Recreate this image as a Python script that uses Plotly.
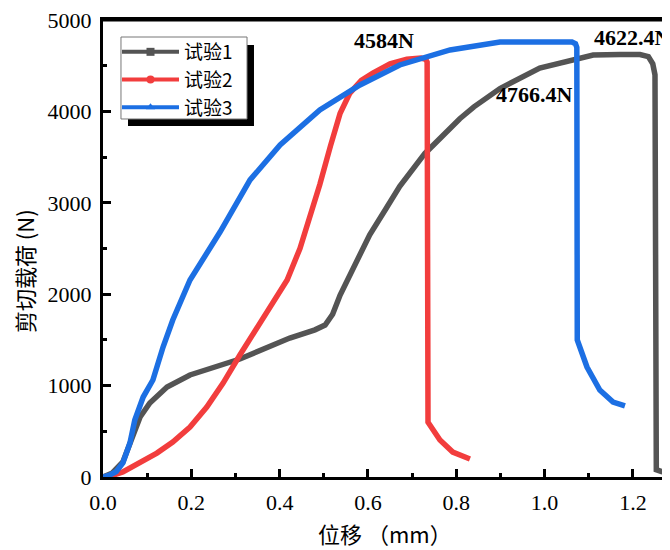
import plotly.graph_objects as go

# ---- data ----
gray_x = [0, 0.02, 0.045, 0.068, 0.084, 0.106, 0.145, 0.197, 0.272, 0.31, 0.423, 0.48, 0.503,
          0.52, 0.537, 0.57, 0.604, 0.64, 0.672, 0.729, 0.808, 0.84, 0.899, 0.989, 1.035, 1.08,
          1.11, 1.171, 1.216, 1.235, 1.245, 1.25, 1.251, 1.253, 1.265, 1.277]
gray_y = [0, 40, 164, 437, 656, 810, 985, 1116, 1225, 1291, 1520, 1610, 1663,
          1780, 1991, 2330, 2650, 2930, 3180, 3540, 3920, 4050, 4250, 4475, 4530, 4595,
          4617, 4622, 4622, 4600, 4520, 4400, 2180, 80, 60, 45]

red_x = [0, 0.02, 0.045, 0.084, 0.122, 0.158, 0.197, 0.235, 0.272, 0.31, 0.349, 0.385, 0.417,
         0.446, 0.469, 0.491, 0.515, 0.537, 0.559, 0.585, 0.611, 0.65, 0.688, 0.72, 0.731,
         0.734, 0.736, 0.763, 0.792, 0.831]
red_y = [0, 15, 55, 164, 262, 383, 547, 766, 1028, 1335, 1641, 1915, 2155,
         2500, 2850, 3200, 3620, 3980, 4200, 4340, 4420, 4520, 4570, 4584, 4570,
         4540, 600, 405, 273, 197]

blue_x = [0, 0.015, 0.03, 0.045, 0.061, 0.072, 0.091, 0.113, 0.136, 0.158, 0.197, 0.265, 0.333,
          0.401, 0.491, 0.582, 0.672, 0.786, 0.899, 0.989, 1.03, 1.062, 1.07, 1.073, 1.074,
          1.096, 1.125, 1.155, 1.182]
blue_y = [0, 20, 60, 153, 372, 624, 875, 1061, 1422, 1718, 2155, 2680, 3250,
          3632, 4015, 4289, 4508, 4672, 4759, 4766, 4766, 4759, 4740, 4700, 1500,
          1203, 952, 820, 777]

series_names = ["试验1", "试验2", "试验3"]
peak_labels = ["4584N", "4766.4N", "4622.4N"]
x_ticks = [0.0, 0.2, 0.4, 0.6, 0.8, 1.0, 1.2]
y_ticks = [0, 1000, 2000, 3000, 4000, 5000]

colors = ["#545454", "#f23d3d", "#1c6fe3"]
symbols = ["square", "circle", "triangle-up"]

fig = go.Figure()
for xs, ys, name, c, s in zip([gray_x, red_x, blue_x], [gray_y, red_y, blue_y],
                              series_names, colors, symbols):
    fig.add_trace(go.Scatter(x=xs, y=ys, mode="lines", name=name, showlegend=False,
                             line=dict(color=c, width=5.5)))
    fig.add_trace(go.Scatter(x=[None], y=[None], mode="lines+markers", name=name,
                             line=dict(color=c, width=4),
                             marker=dict(symbol=s, size=8, color=c)))

serif = "Liberation Serif"
cjk = "Noto Sans CJK SC"

# peak labels
fig.add_annotation(x=0.636, y=4780, text=peak_labels[0], showarrow=False,
                   font=dict(family=serif, size=22, color="black", weight="bold"),
                   xanchor="center", yanchor="middle")
fig.add_annotation(x=0.978, y=4190, text=peak_labels[1], showarrow=False,
                   font=dict(family=serif, size=22, color="black", weight="bold"),
                   xanchor="center", yanchor="middle")
fig.add_annotation(x=1.107, y=4814, text=peak_labels[2], showarrow=False,
                   font=dict(family=serif, size=22, color="black", weight="bold"),
                   xanchor="left", yanchor="middle")

# axis titles
fig.add_annotation(xref="paper", yref="paper", x=-0.138, y=0.45, text="剪切载荷 (N)",
                   textangle=-90, showarrow=False, font=dict(family=cjk, size=22, color="black"),
                   xanchor="center", yanchor="middle")
fig.add_annotation(xref="paper", yref="paper", x=0.497, y=-0.122, text="位移 （mm）",
                   showarrow=False, font=dict(family=cjk, size=22, color="black"),
                   xanchor="center", yanchor="middle")

# top frame line
fig.add_shape(type="line", xref="paper", yref="paper", x0=0, x1=1, y0=1, y1=1,
              line=dict(color="black", width=3), layer="above")

# legend shadow and box
fig.add_shape(type="rect", xref="paper", yref="paper", x0=0.0441, x1=0.2663, y0=0.768, y1=0.9453,
              fillcolor="black", line=dict(width=0), layer="above")
fig.add_shape(type="rect", xref="paper", yref="paper", x0=0.0317, x1=0.254, y0=0.7834, y1=0.9628,
              fillcolor="white", line=dict(width=1, color="#777777"), layer="above")

fig.update_layout(
    width=662, height=542,
    margin=dict(l=95, r=0, t=12, b=73, autoexpand=False),
    plot_bgcolor="white", paper_bgcolor="white",
    legend=dict(x=0.0247, y=0.9716, xanchor="left", yanchor="top",
                bgcolor="rgba(0,0,0,0)", borderwidth=0,
                itemwidth=57, tracegroupgap=0,
                font=dict(family=cjk, size=19, color="black")),
    xaxis=dict(range=[0, 1.284], tickvals=x_ticks, ticktext=[f"{v:.1f}" for v in x_ticks],
               ticks="inside", ticklen=8, tickwidth=2.5, tickcolor="black",
               minor=dict(dtick=0.1, ticks="inside", ticklen=4, tickwidth=2.5, tickcolor="black"),
               showline=True, linecolor="black", linewidth=3, mirror=True,
               showgrid=False, zeroline=False, ticklabelstandoff=4, ticklabeloverflow="allow",
               tickfont=dict(family=serif, size=22, color="black")),
    yaxis=dict(range=[0, 5000], tickvals=y_ticks, ticks="inside", ticklen=8, tickwidth=2.5,
               tickcolor="black",
               minor=dict(dtick=500, ticks="inside", ticklen=4, tickwidth=2.5, tickcolor="black"),
               showline=True, linecolor="black", linewidth=3, mirror=False,
               showgrid=False, zeroline=False, ticklabelstandoff=4, ticklabeloverflow="allow",
               tickfont=dict(family=serif, size=22, color="black")),
)

fig.write_html("out.html")
